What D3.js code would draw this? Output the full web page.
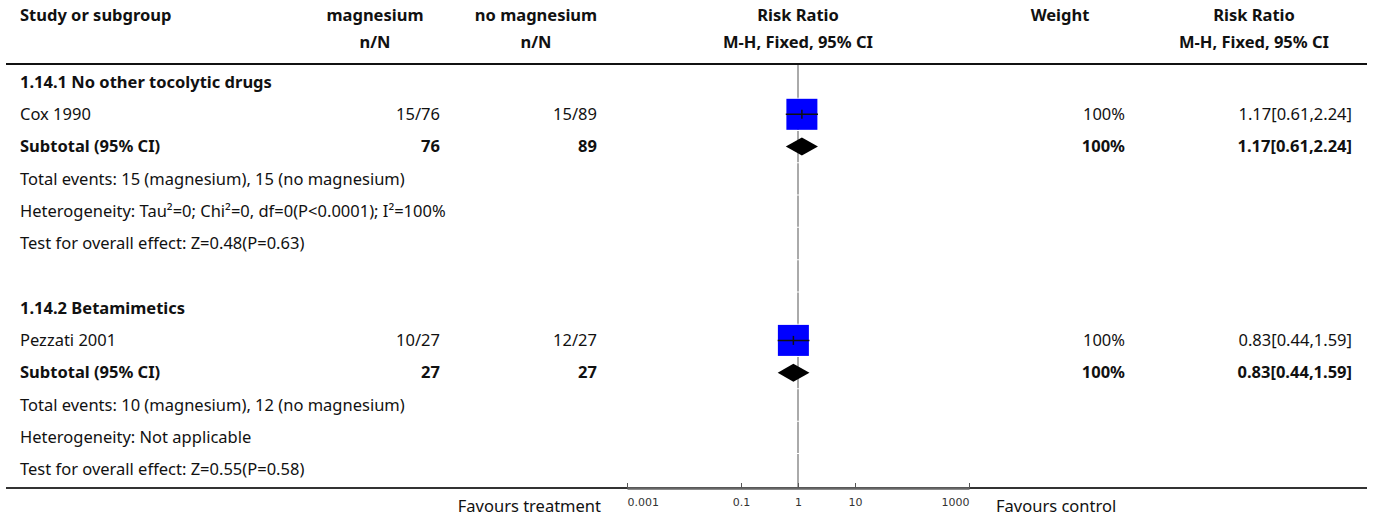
<!DOCTYPE html>
<html>
<head>
<meta charset="utf-8">
<script src="https://cdn.jsdelivr.net/npm/d3@7"></script>
<style>
  body { margin: 0; background: #fff; }
  svg text { font-family: "Noto Sans", sans-serif; font-size: 16.5px; fill: #111; }
  .bold { font-weight: bold; }
  .tick text { font-family: "DejaVu Sans", sans-serif; font-size: 11px; fill: #333; }
</style>
</head>
<body>
<svg id="chart"></svg>
<script>
// --- data ---
const groupTitles = ['1.14.1 No other tocolytic drugs', '1.14.2 Betamimetics']
const studies = ['Cox 1990', 'Pezzati 2001']
const magEvents = [15, 10]
const magTotal = [76, 27]
const noEvents = [15, 12]
const noTotal = [89, 27]
const rr = [1.17, 0.83]
const rrLow = [0.61, 0.44]
const rrHigh = [2.24, 1.59]
const weights = [100, 100]
const subWeights = [100, 100]
const totalEvents = ['Total events: 15 (magnesium), 15 (no magnesium)', 'Total events: 10 (magnesium), 12 (no magnesium)']
const heterogeneity = ['Heterogeneity: Tau\u00b2=0; Chi\u00b2=0, df=0(P<0.0001); I\u00b2=100%', 'Heterogeneity: Not applicable']
const overallTest = ['Test for overall effect: Z=0.48(P=0.63)', 'Test for overall effect: Z=0.55(P=0.58)']
const axisTicks = [0.001, 0.1, 1, 10, 1000]

const config = {
  width: 1375, height: 516,
  lineLeft: 6, lineRight: 1367, textLeft: 20,
  magX: 440, magHeadX: 375, noMagX: 597, noMagHeadX: 536,
  weightX: 1125, weightHeadX: 1060, rrX: 1352, rrHeadX: 1254,
  plotLeft: 627, plotRight: 969,
  headerY1: 15, headerY2: 42, headerLine: 64,
  firstRow: 82, rowStep: 32.3, axisY: 488
}

const svg = d3.select('#chart')
  .attr('width', config.width)
  .attr('height', config.height)

// build row list
let rows = []
groupTitles.forEach((g, i) => {
  rows.push({type: 'group', text: g})
  rows.push({type: 'study', i: i})
  rows.push({type: 'subtotal', i: i})
  rows.push({type: 'note', text: totalEvents[i]})
  rows.push({type: 'note', text: heterogeneity[i]})
  rows.push({type: 'note', text: overallTest[i]})
  if (i < groupTitles.length - 1) rows.push({type: 'blank'})
})
rows.forEach((r, k) => r.id = k)

const yScale = d3.scaleLinear()
  .domain([0, rows.length - 1])
  .range([config.firstRow, config.firstRow + config.rowStep * (rows.length - 1)])

const xScale = d3.scaleLog()
  .domain([0.001, 1000])
  .range([config.plotLeft, config.plotRight])

const sizeScale = d3.scaleSqrt().domain([0, 100]).range([0, 31])

// header
const head = svg.append('g')
function headText(x, y, t, anchor) {
  head.append('text').attr('class', 'bold')
    .attr('x', x).attr('y', y).attr('dy', '0.35em')
    .attr('text-anchor', anchor).text(t)
}
headText(config.textLeft, config.headerY1, 'Study or subgroup', 'start')
headText(config.magHeadX, config.headerY1, 'magnesium', 'middle')
headText(config.magHeadX, config.headerY2, 'n/N', 'middle')
headText(config.noMagHeadX, config.headerY1, 'no magnesium', 'middle')
headText(config.noMagHeadX, config.headerY2, 'n/N', 'middle')
headText(xScale(1), config.headerY1, 'Risk Ratio', 'middle')
headText(xScale(1), config.headerY2, 'M-H, Fixed, 95% CI', 'middle')
headText(config.weightHeadX, config.headerY1, 'Weight', 'middle')
headText(config.rrHeadX, config.headerY1, 'Risk Ratio', 'middle')
headText(config.rrHeadX, config.headerY2, 'M-H, Fixed, 95% CI', 'middle')

svg.append('line')
  .attr('x1', config.lineLeft).attr('x2', config.lineRight)
  .attr('y1', config.headerLine).attr('y2', config.headerLine)
  .attr('stroke', '#111').attr('stroke-width', 2)

// line of no effect, drawn per row like the original
svg.append('g').selectAll('line')
  .data(rows)
  .join('line')
    .attr('x1', xScale(1)).attr('x2', xScale(1))
    .attr('y1', d => d.id === 0 ? config.headerLine + 1 : yScale(d.id) - config.rowStep / 2 + 0.5)
    .attr('y2', d => d.id === rows.length - 1 ? config.axisY : yScale(d.id) + config.rowStep / 2 - 0.5)
    .attr('stroke', '#aaa').attr('stroke-width', 2)

// rows
const fmt = d3.format('.2f')
rows.forEach(r => {
  const y = yScale(r.id)
  const g = svg.append('g')
  const txt = (x, t, anchor, bold) => g.append('text')
    .attr('class', bold ? 'bold' : null)
    .attr('x', x).attr('y', y).attr('dy', '0.35em')
    .attr('text-anchor', anchor).text(t)

  if (r.type === 'group') txt(config.textLeft, r.text, 'start', true)
  if (r.type === 'note') txt(config.textLeft, r.text, 'start', false)
  if (r.type === 'study') {
    const i = r.i
    txt(config.textLeft, studies[i], 'start', false)
    txt(config.magX, magEvents[i] + '/' + magTotal[i], 'end', false)
    txt(config.noMagX, noEvents[i] + '/' + noTotal[i], 'end', false)
    txt(config.weightX, weights[i] + '%', 'end', false)
    txt(config.rrX, `${fmt(rr[i])}[${fmt(rrLow[i])},${fmt(rrHigh[i])}]`, 'end', false)
    const s = sizeScale(weights[i])
    g.append('rect')
      .attr('x', xScale(rr[i]) - s / 2).attr('y', y - s / 2)
      .attr('width', s).attr('height', s)
      .attr('fill', '#0000ff')
    g.append('line')
      .attr('x1', xScale(rrLow[i])).attr('x2', xScale(rrHigh[i]))
      .attr('y1', y).attr('y2', y)
      .attr('stroke', '#111').attr('stroke-width', 1.5)
    g.append('line')
      .attr('x1', xScale(rr[i])).attr('x2', xScale(rr[i]))
      .attr('y1', y - 4.5).attr('y2', y + 4.5)
      .attr('stroke', '#111').attr('stroke-width', 1.5)
  }
  if (r.type === 'subtotal') {
    const i = r.i
    txt(config.textLeft, 'Subtotal (95% CI)', 'start', true)
    txt(config.magX, magTotal[i], 'end', true)
    txt(config.noMagX, noTotal[i], 'end', true)
    txt(config.weightX, subWeights[i] + '%', 'end', true)
    txt(config.rrX, `${fmt(rr[i])}[${fmt(rrLow[i])},${fmt(rrHigh[i])}]`, 'end', true)
    const pts = [[xScale(rrLow[i]), y], [xScale(rr[i]), y - 9], [xScale(rrHigh[i]), y], [xScale(rr[i]), y + 9]]
    g.append('path')
      .attr('d', d3.line()(pts) + 'Z')
      .attr('fill', '#000')
  }
})

// bottom axis
svg.append('line')
  .attr('x1', config.lineLeft).attr('x2', config.lineRight)
  .attr('y1', config.axisY).attr('y2', config.axisY)
  .attr('stroke', '#333').attr('stroke-width', 2)

const xAxis = d3.axisBottom(xScale)
  .tickValues(axisTicks)
  .tickFormat(d => d >= 1 ? d3.format('d')(d) : String(d))
  .tickSizeInner(-5)
  .tickSizeOuter(0)
  .tickPadding(10)

const xAxisG = svg.append('g')
  .attr('transform', `translate(0,${config.axisY})`)
  .call(xAxis)
xAxisG.select('.domain').attr('stroke', '#666').attr('stroke-width', 2.5)
xAxisG.selectAll('.tick line').attr('stroke', '#555')
// end labels sit inside the axis span
xAxisG.selectAll('.tick text')
  .attr('text-anchor', (d, i) => i === 0 ? 'start' : (i === axisTicks.length - 1 ? 'end' : 'middle'))

svg.append('text')
  .attr('x', 601).attr('y', 506).attr('dy', '0.35em')
  .attr('text-anchor', 'end').text('Favours treatment')
svg.append('text')
  .attr('x', 996).attr('y', 506).attr('dy', '0.35em')
  .attr('text-anchor', 'start').text('Favours control')
</script>
</body>
</html>
